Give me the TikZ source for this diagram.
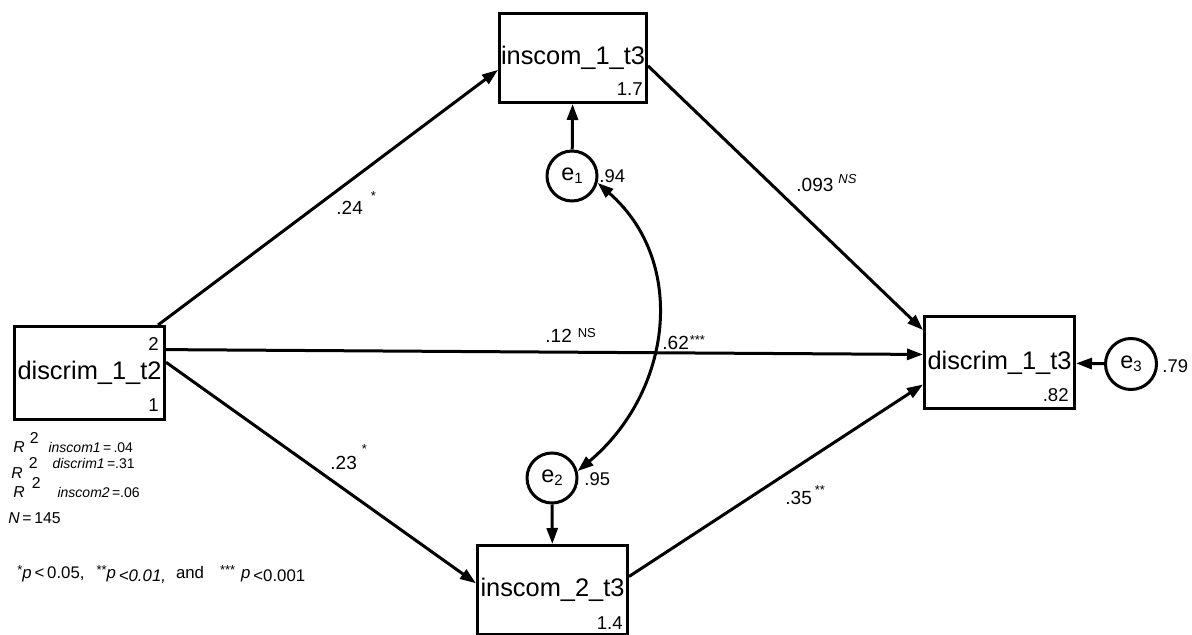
\documentclass[tikz,border=0pt]{standalone}
\usepackage{fontspec}
\setmainfont{Liberation Sans}
\usetikzlibrary{positioning,arrows.meta}
% raised significance marks and error labels
\newcommand{\sigmark}[2]{\raisebox{#1}{\fontsize{6.5}{7}\selectfont #2}}
\newcommand{\errlabel}[1]{e\raisebox{-1.5pt}{\fontsize{7.5}{8}\selectfont #1}}
\tikzset{
  pathline/.style={-{Triangle[length=8pt,width=5.5pt]}, line width=1.5pt},
  covline/.style={{Triangle[length=8pt,width=5.5pt]}-{Triangle[length=8pt,width=5.5pt]}, line width=1.5pt},
  varbox/.style={draw, line width=1.5pt, minimum width=75pt, minimum height=46pt, inner sep=0pt, font=\fontsize{12.7}{14}\selectfont},
  errcircle/.style={draw, circle, line width=1.5pt, minimum size=25pt, inner sep=0pt, font=\fontsize{11.7}{13}\selectfont},
  boxval/.style={inner sep=0pt, font=\fontsize{9.3}{11}\selectfont},
  coef/.style={anchor=base west, inner sep=0pt, font=\fontsize{9.5}{11}\selectfont},
  errvar/.style={anchor=base west, inner sep=0pt, font=\fontsize{9.2}{11}\selectfont},
  fitnote/.style={anchor=base west, inner sep=0pt, font=\fontsize{7.9}{9}\selectfont}
}

\begin{document}
\begin{tikzpicture}[x=0.5pt, y=-0.5pt]
  \path[use as bounding box, fill=white] (0,0) rectangle (1192,635);

  % observed variables
  \node[varbox, minimum height=46.5pt] (d2) at (89.5,373) {discrim\_1\_t2};
  \node[varbox, minimum width=73.5pt, minimum height=44.5pt] (i1) at (573,58) {inscom\_1\_t3};
  \node[varbox] (d3) at (999.5,362.5) {discrim\_1\_t3};
  \node[varbox, minimum height=44.5pt] (i2) at (552.5,590) {inscom\_2\_t3};

  % intercepts / means inside the boxes
  \node[boxval, anchor=north east] (d2hi) at ([shift={(-3.5pt,-6pt)}]d2.north east) {2};
  \node[boxval, anchor=south east] (d2lo) at ([shift={(-3.5pt,4.5pt)}]d2.south east) {1};
  \node[boxval, anchor=south east] (i1val) at ([shift={(-2.5pt,4pt)}]i1.south east) {1.7};
  \node[boxval, anchor=south east] (d3val) at ([shift={(-3.5pt,4pt)}]d3.south east) {.82};
  \node[boxval, anchor=south east] (i2val) at ([shift={(-3pt,3pt)}]i2.south east) {1.4};

  % residuals
  \node[errcircle] (e1) at (572,176) {\errlabel{1}};
  \node[errcircle] (e2) at (552,478) {\errlabel{2}};
  \node[errcircle, minimum size=25.5pt] (e3) at (1131,364) {\errlabel{3}};
  \node[errvar] (e1var) at (599,183) {.94};
  \node[errvar] (e2var) at (584,485) {.95};
  \node[errvar] (e3var) at (1162,373) {.79};

  % paths
  \draw[pathline] (d2.35) -- (i1.189);
  \draw[pathline] (d2.17) -- (d3.174);
  \draw[pathline] (d2.8) -- (i2.175);
  \draw[pathline] (i1.-6) -- (d3.157);
  \draw[pathline] (i2.10) -- (d3.196);
  \draw[pathline] (e1) -- (i1);
  \draw[pathline] (e2) -- (i2);
  \draw[pathline] (e3) -- (d3);
  \draw[covline] (e1.-15) .. controls (688,262) and (672,392) .. (e2.15);

  % path coefficients
  \node[coef] (c24) at (336,215) {.24\hspace{4pt}\sigmark{7.3pt}{*}};
  \node[coef] (c12) at (545,343) {.12\hspace{3pt}\sigmark{2.5pt}{NS}};
  \node[coef] (c62) at (662,350) {.62\hspace{0.5pt}\sigmark{2.8pt}{***}};
  \node[coef] (c093) at (796,192) {.093\hspace{2.5pt}\sigmark{4pt}{\itshape NS}};
  \node[coef] (c23) at (330,469) {.23\hspace{2.5pt}\sigmark{7.8pt}{*}};
  \node[coef] (c35) at (785,504) {.35\hspace{1.5pt}\sigmark{4.8pt}{**}};

  % fit summary
  \node[fitnote] (r2a) at (13,452) {\textit{R}\hspace{2.5pt}\raisebox{4.5pt}{2}\hspace{5pt}{\fontsize{7}{8}\selectfont\textit{inscom1}\,=\,.04}};
  \node[fitnote] (r2b) at (11,478) {\textit{R}\hspace{3pt}\raisebox{5pt}{2}\hspace{7.5pt}\raisebox{5pt}{\fontsize{7}{8}\selectfont\textit{discrim1}\,=.31}};
  \node[fitnote] (r2c) at (13,497) {\textit{R}\hspace{3.5pt}\raisebox{4.5pt}{2}\hspace{8.5pt}{\fontsize{7}{8}\selectfont\textit{inscom2}\,=.06}};
  \node[fitnote] (nobs) at (8,523) {\textit{N}\,=\,145};
  \node[fitnote, font=\fontsize{8.4}{10}\selectfont] (plegend) at (17,578)
    {\sigmark{2pt}{*}\textit{p}\,<\,0.05,\hspace{6pt}\sigmark{2pt}{**}\textit{p}\,\raisebox{-1.5pt}{\textit{<0.01,}}\hspace{5pt}and\hspace{8pt}\sigmark{2pt}{***}\hspace{3pt}\textit{p}\,\raisebox{-1.5pt}{<0.001}};
\end{tikzpicture}
\end{document}
